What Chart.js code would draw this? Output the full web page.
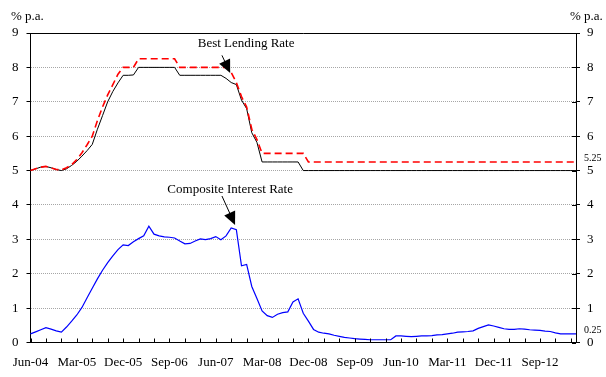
<!DOCTYPE html>
<html>
<head>
<meta charset="utf-8">
<script src="https://cdn.jsdelivr.net/npm/chart.js@4.4.1/dist/chart.umd.min.js"></script>
<style>
  html, body { margin: 0; padding: 0; background: #fff; }
  #wrap { width: 606px; height: 377px; }
</style>
</head>
<body>
<div id="wrap"><canvas id="rateChart" width="606" height="377"></canvas></div>
<script>
// monthly axis, Jun-04 .. Apr-13
const monthNames = ['Jan', 'Feb', 'Mar', 'Apr', 'May', 'Jun', 'Jul', 'Aug', 'Sep', 'Oct', 'Nov', 'Dec'];
const firstYear = 2004, firstMonth = 5, monthCount = 107;
const months = [];
for (let i = 0; i < monthCount; i++) {
    const m = (firstMonth + i) % 12;
    const yr = firstYear + Math.floor((firstMonth + i) / 12);
    months.push(monthNames[m] + '-' + String(yr).slice(2));
}

const tickLabels = ['Jun-04', 'Mar-05', 'Dec-05', 'Sep-06', 'Jun-07', 'Mar-08', 'Dec-08',
    'Sep-09', 'Jun-10', 'Mar-11', 'Dec-11', 'Sep-12'];
const yTicks = [0, 1, 2, 3, 4, 5, 6, 7, 8, 9];

// Best lending rate (solid black)
const bestLendingLow = [
    5.0, 5.05, 5.1, 5.12, 5.08, 5.03, 5.0, 5.05, 5.15, 5.27,
    5.42, 5.58, 5.76, 6.2, 6.6, 7.0, 7.3, 7.55, 7.77, 7.77,
    7.78, 8.0, 8.0, 8.0, 8.0, 8.0, 8.0, 8.0, 8.0, 7.77,
    7.77, 7.77, 7.77, 7.77, 7.77, 7.77, 7.77, 7.77, 7.68, 7.56,
    7.5, 7.05, 6.8, 6.1, 5.82, 5.25, 5.25, 5.25, 5.25, 5.25,
    5.25, 5.25, 5.25, 5.0, 5.0, 5.0, 5.0, 5.0, 5.0, 5.0,
    5.0, 5.0, 5.0, 5.0, 5.0, 5.0, 5.0, 5.0, 5.0, 5.0,
    5.0, 5.0, 5.0, 5.0, 5.0, 5.0, 5.0, 5.0, 5.0, 5.0,
    5.0, 5.0, 5.0, 5.0, 5.0, 5.0, 5.0, 5.0, 5.0, 5.0,
    5.0, 5.0, 5.0, 5.0, 5.0, 5.0, 5.0, 5.0, 5.0, 5.0,
    5.0, 5.0, 5.0, 5.0, 5.0, 5.0, 5.0
];

// Best lending rate (dashed red)
const bestLendingHigh = [
    5.0, 5.05, 5.1, 5.12, 5.08, 5.03, 5.02, 5.08, 5.17, 5.32,
    5.52, 5.75, 6.0, 6.45, 6.85, 7.2, 7.5, 7.8, 8.0, 8.0,
    8.0, 8.25, 8.25, 8.25, 8.25, 8.25, 8.25, 8.25, 8.25, 8.0,
    8.0, 8.0, 8.0, 8.0, 8.0, 8.0, 8.0, 8.0, 8.0, 7.85,
    7.56, 7.15, 6.85, 6.2, 5.9, 5.5, 5.5, 5.5, 5.5, 5.5,
    5.5, 5.5, 5.5, 5.5, 5.25, 5.25, 5.25, 5.25, 5.25, 5.25,
    5.25, 5.25, 5.25, 5.25, 5.25, 5.25, 5.25, 5.25, 5.25, 5.25,
    5.25, 5.25, 5.25, 5.25, 5.25, 5.25, 5.25, 5.25, 5.25, 5.25,
    5.25, 5.25, 5.25, 5.25, 5.25, 5.25, 5.25, 5.25, 5.25, 5.25,
    5.25, 5.25, 5.25, 5.25, 5.25, 5.25, 5.25, 5.25, 5.25, 5.25,
    5.25, 5.25, 5.25, 5.25, 5.25, 5.25, 5.25
];

// Composite interest rate (blue)
const compositeRate = [
    0.25, 0.31, 0.37, 0.43, 0.39, 0.34, 0.30, 0.45, 0.62, 0.80,
    1.02, 1.30, 1.58, 1.85, 2.10, 2.32, 2.52, 2.70, 2.84, 2.82,
    2.93, 3.02, 3.10, 3.38, 3.15, 3.10, 3.07, 3.06, 3.04, 2.95,
    2.87, 2.88, 2.95, 3.01, 2.99, 3.02, 3.08, 2.99, 3.10, 3.33,
    3.28, 2.23, 2.27, 1.63, 1.28, 0.92, 0.78, 0.73, 0.82, 0.87,
    0.89, 1.18, 1.27, 0.85, 0.62, 0.38, 0.30, 0.27, 0.25, 0.21,
    0.18, 0.15, 0.13, 0.11, 0.10, 0.09, 0.08, 0.08, 0.08, 0.08,
    0.08, 0.19, 0.19, 0.18, 0.17, 0.18, 0.19, 0.19, 0.20, 0.22,
    0.23, 0.25, 0.27, 0.30, 0.31, 0.32, 0.34, 0.41, 0.46, 0.51,
    0.48, 0.44, 0.40, 0.38, 0.38, 0.40, 0.39, 0.37, 0.36, 0.35,
    0.33, 0.32, 0.28, 0.25, 0.25, 0.25, 0.25
];

const endLabels = [
    { text: '5.25', value: 5.25 },
    { text: '0.25', value: 0.25 }
];

// callouts, placed in data units (month index, % p.a.)
const callouts = [
    { text: 'Best Lending Rate', at: [41.9, 8.68], from: [37.2, 8.35], to: [38.8, 7.84] },
    { text: 'Composite Interest Rate', at: [38.8, 4.46], from: [37.2, 4.26], to: [39.75, 3.42] }
];

const serif = "'Liberation Serif', 'Times New Roman', serif";
Chart.defaults.font.family = serif;
Chart.defaults.font.size = 13;
Chart.defaults.color = '#000';

function drawArrow(ctx, x0, y0, x1, y1) {
    const ang = Math.atan2(y1 - y0, x1 - x0);
    const c = Math.cos(ang), s = Math.sin(ang);
    const len = 13, half = 6;
    ctx.beginPath();
    ctx.moveTo(x0, y0);
    ctx.lineTo(x1 - c * len * 0.8, y1 - s * len * 0.8);
    ctx.stroke();
    ctx.beginPath();
    ctx.moveTo(x1, y1);
    ctx.lineTo(x1 - c * len - s * half, y1 - s * len + c * half);
    ctx.lineTo(x1 - c * len + s * half, y1 - s * len - c * half);
    ctx.closePath();
    ctx.fill();
}

const decorPlugin = {
    id: 'decor',
    afterDraw(chart) {
        const { ctx, chartArea: a, scales } = chart;
        const xs = scales.x, ys = scales.y;
        ctx.save();
        ctx.strokeStyle = '#000';
        ctx.fillStyle = '#000';
        ctx.lineWidth = 1;

        // top frame line
        const top = Math.round(a.top) + 0.5;
        ctx.beginPath();
        ctx.moveTo(a.left, top);
        ctx.lineTo(a.right, top);
        ctx.stroke();

        // inward tick marks on the month axis, every quarter
        ctx.beginPath();
        for (let i = 0; i < months.length; i += 3) {
            const px = Math.round(xs.getPixelForValue(i)) + 0.5;
            ctx.moveTo(px, a.bottom);
            ctx.lineTo(px, a.bottom - 4);
        }
        ctx.stroke();

        // inner half of the right axis ticks
        ctx.beginPath();
        yTicks.forEach(v => {
            const py = Math.round(ys.getPixelForValue(v)) + 0.5;
            ctx.moveTo(a.right - 4, py);
            ctx.lineTo(a.right, py);
        });
        ctx.stroke();

        // units
        ctx.font = '13px ' + serif;
        ctx.textBaseline = 'middle';
        ctx.textAlign = 'left';
        ctx.fillText('% p.a.', 11, 17);
        ctx.fillText('% p.a.', 570, 17);

        // end-of-series values
        ctx.font = '10px ' + serif;
        endLabels.forEach(l => {
            ctx.fillText(l.text, a.right + 8, ys.getPixelForValue(l.value) - 4);
        });

        // callouts
        ctx.font = '13px ' + serif;
        ctx.textAlign = 'center';
        callouts.forEach(c => {
            ctx.fillText(c.text, xs.getPixelForValue(c.at[0]), ys.getPixelForValue(c.at[1]));
            drawArrow(ctx,
                xs.getPixelForValue(c.from[0]), ys.getPixelForValue(c.from[1]),
                xs.getPixelForValue(c.to[0]), ys.getPixelForValue(c.to[1]));
        });
        ctx.restore();
    }
};

const gridColor = ctx => (ctx.tick && (ctx.tick.value === 0 || ctx.tick.value === 9)) ? 'rgba(0,0,0,0)' : '#a6a6a6';

new Chart(document.getElementById('rateChart'), {
    type: 'line',
    data: {
        labels: months,
        datasets: [
            {
                label: 'Best Lending Rate (upper)',
                data: bestLendingHigh,
                borderColor: '#ff0000',
                borderWidth: 1.6,
                borderDash: [7, 4],
                pointRadius: 0,
                tension: 0,
                fill: false
            },
            {
                label: 'Best Lending Rate',
                data: bestLendingLow,
                borderColor: '#000000',
                borderWidth: 1,
                pointRadius: 0,
                tension: 0,
                fill: false
            },
            {
                label: 'Composite Interest Rate',
                data: compositeRate,
                borderColor: '#0000ff',
                borderWidth: 1.2,
                pointRadius: 0,
                tension: 0,
                fill: false
            }
        ]
    },
    options: {
        responsive: false,
        animation: false,
        layout: { padding: { top: 33, left: 0, right: 0, bottom: 0 } },
        plugins: {
            legend: { display: false },
            tooltip: { enabled: false }
        },
        scales: {
            x: {
                type: 'category',
                offset: false,
                grid: { display: false, drawTicks: false },
                border: { display: true, color: '#000', width: 1 },
                ticks: {
                    autoSkip: false,
                    maxRotation: 0,
                    padding: 12,
                    font: { size: 13 },
                    callback: function (val) {
                        const lab = this.getLabelForValue(val);
                        return tickLabels.includes(lab) ? lab : '';
                    }
                },
                afterFit: s => { s.height = 34.5; }
            },
            y: {
                position: 'left',
                min: 0,
                max: 9,
                grid: {
                    color: gridColor,
                    tickColor: '#000',
                    tickLength: 4,
                    drawTicks: true
                },
                border: { display: true, color: '#000', width: 1, dash: [1, 1] },
                ticks: { stepSize: 1, padding: 8, font: { size: 13 } },
                afterFit: s => { s.width = 30.5; }
            },
            y1: {
                position: 'right',
                min: 0,
                max: 9,
                grid: {
                    drawOnChartArea: false,
                    tickColor: '#000',
                    tickLength: 4,
                    drawTicks: true
                },
                border: { display: true, color: '#000', width: 1 },
                ticks: { stepSize: 1, padding: 7, font: { size: 13 } },
                afterFit: s => { s.width = 30; }
            }
        }
    },
    plugins: [decorPlugin]
});
</script>
</body>
</html>
